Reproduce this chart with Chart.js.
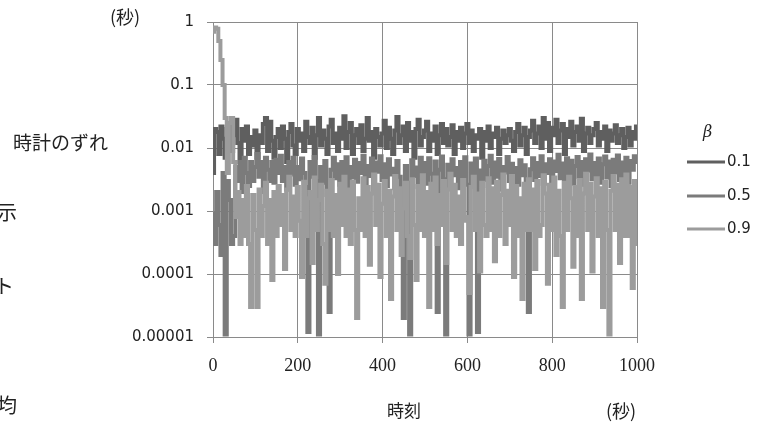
<!DOCTYPE html>
<html>
<head>
<meta charset="utf-8">
<script src="https://cdn.jsdelivr.net/npm/chart.js@4/dist/chart.umd.min.js"></script>
<style>
  body { margin: 0; background: #fff; }
  #wrap { width: 769px; height: 427px; position: relative; }
</style>
</head>
<body>
<div id="wrap"><canvas id="myChart"></canvas></div>
<script>
// sampling grid, one value every 5 seconds
const times = Array.from({ length: 201 }, (_, i) => i * 5);

const seriesNames = ["0.1", "0.5", "0.9"];
const seriesColors = ["#5f5f5f", "#7b7b7b", "#9c9c9c"];
const yTicks = [0.00001, 0.0001, 0.001, 0.01, 0.1, 1];

// beta = 0.1
const beta01 = [
  0.004, 0.02, 0.018, 0.008, 0.022, 0.014, 0.007, 0.02, 0.025, 0.009,
  0.016, 0.028, 0.012, 0.006, 0.02, 0.013, 0.022, 0.008, 0.015, 0.011,
  0.019, 0.007, 0.016, 0.012, 0.024, 0.03, 0.009, 0.026, 0.013, 0.007,
  0.015, 0.02, 0.01, 0.022, 0.014, 0.006, 0.018, 0.024, 0.011, 0.008,
  0.02, 0.013, 0.017, 0.009, 0.026, 0.015, 0.012, 0.021, 0.007, 0.016,
  0.03, 0.011, 0.019, 0.014, 0.008, 0.022, 0.028, 0.012, 0.017, 0.009,
  0.021, 0.014, 0.032, 0.01, 0.018, 0.025, 0.008, 0.016, 0.02, 0.012,
  0.023, 0.009, 0.014, 0.03, 0.013, 0.018, 0.007, 0.02, 0.015, 0.011,
  0.017, 0.027, 0.01, 0.021, 0.014, 0.008, 0.019, 0.031, 0.012, 0.016,
  0.022, 0.009, 0.025, 0.013, 0.018, 0.007, 0.02, 0.028, 0.011, 0.015,
  0.019, 0.026, 0.009, 0.017, 0.013, 0.022, 0.008, 0.016, 0.024, 0.012,
  0.02, 0.011, 0.015, 0.023, 0.008, 0.018, 0.013, 0.021, 0.01, 0.017,
  0.024, 0.012, 0.019, 0.009, 0.016, 0.014, 0.02, 0.007, 0.018, 0.013,
  0.022, 0.01, 0.017, 0.015, 0.021, 0.008, 0.014, 0.019, 0.012, 0.016,
  0.02, 0.013, 0.009, 0.018, 0.024, 0.011, 0.016, 0.021, 0.008, 0.015,
  0.019, 0.027, 0.012, 0.017, 0.022, 0.01, 0.03, 0.014, 0.025, 0.009,
  0.021, 0.016, 0.028, 0.012, 0.019, 0.024, 0.008, 0.02, 0.015, 0.026,
  0.011, 0.018, 0.022, 0.013, 0.029, 0.009, 0.017, 0.021, 0.012, 0.016,
  0.02, 0.025, 0.011, 0.018, 0.014, 0.022, 0.009, 0.019, 0.013, 0.017,
  0.023, 0.012, 0.016, 0.02, 0.01, 0.015, 0.021, 0.011, 0.018, 0.014,
  0.022
];

// beta = 0.5
const beta05 = [
  0.0009, 0.0003, 0.002, 0.0006, 0.0002, 0.004, 0.000011, 0.003, 0.0015, 0.0003,
  0.0004, 0.005, 0.003, 0.006, 0.002, 0.007, 0.004, 0.0025, 0.006, 0.003,
  0.005, 0.008, 0.0035, 0.006, 0.002, 0.007, 0.0045, 0.003, 0.006, 0.0028,
  0.0065, 0.004, 0.0075, 0.003, 0.005, 0.0022, 0.006, 0.0038, 0.007, 0.0026,
  0.005, 0.0032, 0.0068, 0.004, 0.0024, 0.000012, 0.006, 0.0035, 0.0072, 0.003,
  0.000011, 0.005, 0.0028, 0.0062, 0.0018, 0.000025, 0.0045, 0.007, 0.0033, 0.0055,
  0.0026, 0.006, 0.0038, 0.0071, 0.0022, 0.005, 0.0034, 0.0065, 0.0029, 0.0058,
  0.004, 0.0075, 0.0027, 0.0052, 0.0036, 0.0068, 0.0021, 0.0059, 0.0042, 0.0074,
  0.0031, 0.0055, 0.0025, 0.0066, 0.0038, 0.0047, 0.0023, 0.0062, 0.0035, 0.0008,
  0.00002, 0.0052, 0.0028, 0.000011, 0.0064, 0.0036, 0.0049, 0.0024, 0.007, 0.0033,
  0.0058, 0.0027, 0.0069, 0.0039, 0.0021, 0.0061, 0.000025, 0.0045, 0.0073, 0.0032,
  0.000011, 0.0054, 0.0029, 0.0066, 0.0037, 0.0048, 0.0023, 0.006, 0.0034, 0.0071,
  0.0026, 0.000011, 0.0057, 0.0038, 0.0068, 0.000012, 0.0044, 0.0025, 0.0063, 0.0031,
  0.0052, 0.0075, 0.0028, 0.0059, 0.0035, 0.0067, 0.0022, 0.005, 0.0041, 0.0072,
  0.003, 0.0056, 0.0001, 0.0048, 0.0026, 0.0064, 0.0037, 0.0053, 0.0024, 0.000025,
  0.0046, 0.0069, 0.0031, 0.0058, 0.0036, 0.0074, 0.0027, 0.0055, 0.004, 0.0066,
  0.0029, 0.0061, 0.0043, 0.0078, 0.0033, 0.0057, 0.0024, 0.0069, 0.0038, 0.0063,
  0.0027, 0.0052, 0.0072, 0.0035, 0.006, 0.0026, 0.0066, 0.0044, 0.0079, 0.0032,
  0.0058, 0.0037, 0.0068, 0.0028, 0.0055, 0.0073, 0.0034, 0.0061, 0.0025, 0.0065,
  0.0041, 0.0076, 0.0031, 0.0059, 0.0036, 0.007, 0.0028, 0.0062, 0.0045, 0.0074,
  0.006
];

// beta = 0.9
const beta09 = [
  0.7, 0.82, 0.78, 0.5, 0.25, 0.1, 0.03, 0.004, 0.025, 0.03,
  0.006, 0.0008, 0.002, 0.0003, 0.0015, 0.0004, 0.0025, 0.0003, 0.00003, 0.0018,
  0.0005, 0.00003, 0.0022, 0.0004, 0.0012, 0.0028, 0.0003, 0.0015, 0.00008, 0.002,
  0.0004, 0.0025, 0.0006, 0.0018, 0.00012, 0.0022, 0.0035, 0.0005, 0.0017, 0.0004,
  0.0024, 0.0007, 0.00009, 0.0029, 0.0004, 0.0016, 0.002, 0.00015, 0.0034, 0.0005,
  0.0015, 0.0026, 0.0003, 0.00007, 0.0021, 0.0005, 0.0031, 0.0004, 0.0018, 0.0001,
  0.0027, 0.0006, 0.0035, 0.0004, 0.0022, 0.0003, 0.0029, 0.0005, 0.00002, 0.0016,
  0.0005, 0.0033, 0.0004, 0.0024, 0.00014, 0.0019, 0.0038, 0.0006, 0.0026, 0.00009,
  0.0013, 0.003, 0.0004, 0.0021, 0.00004, 0.0017, 0.0036, 0.0005, 0.0023, 0.0002,
  0.0011, 0.0028, 0.0004, 0.00018, 0.0032, 0.0006, 0.00008, 0.0025, 0.0005, 0.0037,
  0.0004, 0.002, 0.00003, 0.0027, 0.0005, 0.0034, 0.0003, 0.0018, 0.0006, 0.003,
  0.00015, 0.0022, 0.0039, 0.0005, 0.0026, 0.0004, 0.0017, 0.0003, 0.0031, 0.0007,
  0.0008, 0.00005, 0.0024, 0.0035, 0.0005, 0.0019, 0.00011, 0.0028, 0.0006, 0.0004,
  0.0033, 0.0005, 0.0023, 0.00016, 0.0029, 0.0004, 0.0018, 0.0038, 0.0003, 0.0021,
  0.0006, 0.0036, 0.00009, 0.0025, 0.0004, 0.0016, 0.00004, 0.0027, 0.0005, 0.0032,
  0.0005, 0.0022, 0.00012, 0.003, 0.0004, 0.0006, 0.0037, 0.0019, 0.00007, 0.0026,
  0.0005, 0.0034, 0.0002, 0.0021, 0.0004, 0.00003, 0.0028, 0.0005, 0.0035, 0.0016,
  0.00013, 0.0024, 0.0004, 0.0031, 0.00004, 0.0019, 0.0039, 0.0005, 0.0027, 0.00011,
  0.0017, 0.0033, 0.0004, 0.0023, 0.00003, 0.0029, 0.0005, 0.000011, 0.0021, 0.0036,
  0.0005, 0.0026, 0.00015, 0.0032, 0.0004, 0.0038, 0.0004, 0.0024, 0.00006, 0.003,
  0.0003
];

const seriesValues = [beta01, beta05, beta09];

const gridColor = "#8a8a8a";

// texts and legend around the plot
const extrasPlugin = {
  id: "extras",
  afterDraw(chart) {
    const c = chart.ctx;
    c.save();
    c.fillStyle = "#222";
    c.textBaseline = "middle";

    // clipped text from the page on the left
    c.font = "20px 'Noto Sans CJK JP'";
    c.textAlign = "left";
    c.fillText("示", -3, 212);
    c.fillText("ト", -6, 286);
    c.fillText("均", -3, 405);

    c.font = "19px 'Noto Sans CJK JP'";
    c.fillText("時計のずれ", 13, 143);
    c.font = "18px 'Noto Sans CJK JP'";
    c.fillText("(秒)", 110, 17);
    c.fillText("(秒)", 606, 411);
    c.font = "17px 'Noto Sans CJK JP'";
    c.fillText("時刻", 387, 411);

    // legend
    c.font = "italic 16px 'DejaVu Serif'";
    c.fillText("β", 703, 133);
    c.font = "15px 'DejaVu Sans'";
    const ys = [162, 196, 229];
    seriesNames.forEach((name, i) => {
      c.strokeStyle = seriesColors[i];
      c.lineWidth = 3;
      c.beginPath();
      c.moveTo(687, ys[i]);
      c.lineTo(725, ys[i]);
      c.stroke();
      c.fillStyle = "#222";
      c.fillText(name, 727, ys[i]);
    });
    c.restore();
  },
};

const data = {
  datasets: seriesNames.map((name, i) => ({
    label: name,
    data: times.map((t, j) => ({ x: t, y: seriesValues[i][j] })),
    borderColor: seriesColors[i],
    backgroundColor: seriesColors[i],
    borderWidth: 4,
    pointRadius: 0,
    stepped: "middle",
    // 0.9 on top, like the original
    order: 3 - i,
  })),
};

const config = {
  type: "line",
  data: data,
  options: {
    responsive: true,
    maintainAspectRatio: false,
    animation: false,
    layout: {
      padding: { left: 0, right: 132, top: 14, bottom: 0 },
    },
    plugins: {
      legend: { display: false },
      tooltip: { enabled: false },
    },
    scales: {
      x: {
        type: "linear",
        min: 0,
        max: 1000,
        ticks: {
          stepSize: 200,
          color: "#222",
          padding: 12,
          font: { family: "'Liberation Serif'", size: 18 },
          callback: (value) => String(value),
        },
        grid: { color: gridColor, tickLength: 6 },
        border: { color: gridColor },
        afterFit: (scale) => {
          scale.height = 90;
        },
      },
      y: {
        type: "logarithmic",
        min: 0.00001,
        max: 1,
        afterBuildTicks: (scale) => {
          scale.ticks = yTicks.map((v) => ({ value: v }));
        },
        ticks: {
          color: "#222",
          padding: 13,
          font: { family: "'DejaVu Sans'", size: 15 },
          callback: (value) => String(value),
        },
        grid: { color: gridColor, tickLength: 6 },
        border: { color: gridColor },
        afterFit: (scale) => {
          scale.width = 213;
        },
      },
    },
  },
  plugins: [extrasPlugin],
};

const ctx = document.getElementById("myChart").getContext("2d");
const myChart = new Chart(ctx, config);
</script>
</body>
</html>
